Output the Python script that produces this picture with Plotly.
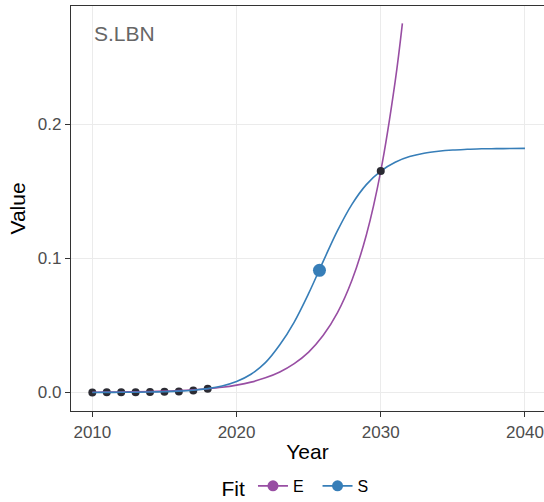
import plotly.graph_objects as go

# Observed data
obs_years = [2010, 2011, 2012, 2013, 2014, 2015, 2016, 2017, 2018]
obs_values = [0.0000, 0.0001, 0.0001, 0.0002, 0.0003, 0.0005, 0.0008, 0.0014, 0.0027]

# S fit (logistic)
s_years = [2010, 2011, 2012, 2013, 2014, 2015, 2016, 2017, 2018, 2019, 2020,
           2021, 2022, 2023, 2024, 2025, 2026, 2027, 2028, 2029, 2030,
           2031, 2032, 2033, 2034, 2035, 2036, 2037, 2038, 2039, 2040]
s_values = [0.00004, 0.00007, 0.00012, 0.00021, 0.00035, 0.0006, 0.0010, 0.0017, 0.0029, 0.0049, 0.0082,
            0.0136, 0.0222, 0.0355, 0.0525, 0.0738, 0.0975, 0.1206, 0.1402, 0.1549, 0.1650,
            0.1716, 0.1758, 0.1783, 0.1798, 0.1807, 0.1812, 0.1816, 0.1817, 0.1818, 0.1819]

# E fit (exponential)
e_years = [2010, 2011, 2012, 2013, 2014, 2015, 2016, 2017, 2018, 2019, 2020,
           2021, 2022, 2023, 2024, 2025, 2026, 2027, 2028, 2029, 2030, 2031, 2031.5]
e_values = [0.00018, 0.00026, 0.00036, 0.00051, 0.00072, 0.0010, 0.0014, 0.0020, 0.0028, 0.0039, 0.0055,
            0.0077, 0.0109, 0.0153, 0.0215, 0.0301, 0.0424, 0.0595, 0.0836, 0.1174, 0.1650, 0.2318, 0.2750]

# Highlighted points
mid_year = [2025.75]
mid_value = [0.0910]
cross_year = [2030]
cross_value = [0.1650]

x_ticks = [2010, 2020, 2030, 2040]
y_ticks = [0.0, 0.1, 0.2]

PURPLE = "#984EA3"
BLUE = "#377EB8"
DARK = "#2b2b33"
FONT = "Liberation Sans, Arial, sans-serif"

fig = go.Figure()

fig.add_trace(go.Scatter(x=obs_years, y=obs_values, mode="markers",
                         marker=dict(color=DARK, size=8), showlegend=False, hoverinfo="skip"))
fig.add_trace(go.Scatter(x=e_years, y=e_values, mode="lines", line=dict(color=PURPLE, width=1.6, shape="spline"),
                         showlegend=False))
fig.add_trace(go.Scatter(x=s_years, y=s_values, mode="lines", line=dict(color=BLUE, width=1.6, shape="spline"),
                         showlegend=False))
fig.add_trace(go.Scatter(x=cross_year, y=cross_value, mode="markers",
                         marker=dict(color=DARK, size=8), showlegend=False))
fig.add_trace(go.Scatter(x=mid_year, y=mid_value, mode="markers",
                         marker=dict(color=BLUE, size=13), showlegend=False))

# legend entries
fig.add_trace(go.Scatter(x=[None], y=[None], mode="lines+markers", name="E  ",
                         line=dict(color=PURPLE, width=1.6), marker=dict(color=PURPLE, size=11)))
fig.add_trace(go.Scatter(x=[None], y=[None], mode="lines+markers", name="S",
                         line=dict(color=BLUE, width=1.6), marker=dict(color=BLUE, size=11)))

fig.add_annotation(x=0.045, y=0.932, xref="paper", yref="paper", text="S.LBN", showarrow=False,
                   xanchor="left", yanchor="middle", font=dict(family=FONT, size=21, color="#666666"))

fig.update_layout(
    width=544, height=502,
    margin=dict(l=71, r=0, t=6, b=91),
    paper_bgcolor="white", plot_bgcolor="white",
    font=dict(family=FONT),
    legend=dict(orientation="h", xref="container", yref="container",
                x=0.545, xanchor="center", y=0.028, yanchor="middle",
                title=dict(text="Fit", font=dict(size=21, color="black", family=FONT)),
                font=dict(size=16, color="black", family=FONT), itemwidth=30),
    xaxis=dict(range=[2008.52, 2041.32], tickvals=x_ticks, ticktext=[str(v) for v in x_ticks],
               showgrid=True, gridcolor="#ebebeb", gridwidth=1.2, zeroline=False, automargin=False,
               showline=True, mirror=True, linecolor="#333333", linewidth=1.2,
               ticks="outside", ticklen=5, tickcolor="#333333",
               tickfont=dict(size=17, color="#4d4d4d", family=FONT),
               title=dict(text="Year", font=dict(size=21, color="black", family=FONT), standoff=3)),
    yaxis=dict(range=[-0.0138, 0.288], tickvals=y_ticks, ticktext=["0.0", "0.1", "0.2"],
               showgrid=True, gridcolor="#ebebeb", gridwidth=1.2, zeroline=False, automargin=False,
               showline=True, mirror=False, linecolor="#333333", linewidth=1.2,
               ticks="outside", ticklen=5, tickcolor="#333333",
               tickfont=dict(size=17, color="#4d4d4d", family=FONT),
               title=dict(text="Value", font=dict(size=21, color="black", family=FONT), standoff=6)),
)

fig.write_html("out.html", config={"displayModeBar": False},
               post_script="document.body.style.margin='0';document.body.style.overflow='hidden';")
